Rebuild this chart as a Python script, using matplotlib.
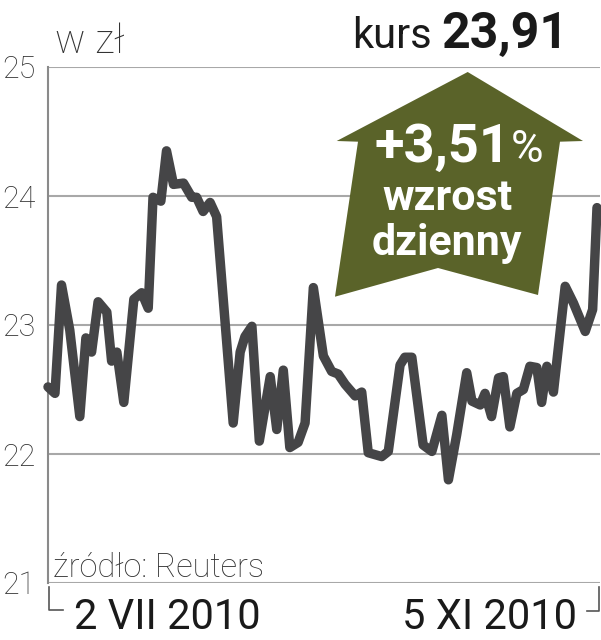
import matplotlib.pyplot as plt
from matplotlib.patches import Polygon
from matplotlib.lines import Line2D

# kurs akcji (dni od 2 VII 2010)
days = [0, 1.6, 3.1, 5.0, 7.3, 8.7, 10.0, 11.5, 13.5, 14.6, 15.8, 17.4, 19.7, 21.5,
        23.0, 24.1, 25.9, 27.2, 28.8, 31.1, 33.0, 34.1, 35.6, 37.2, 38.7, 42.5,
        44.1, 45.2, 46.8, 48.5, 51.0, 52.5, 54.0, 55.5, 57.4, 59.0, 60.9, 63.2,
        65.1, 66.6, 68.2, 70.5, 72.0, 73.5, 76.6, 78.1, 80.8, 81.9, 83.5, 86.1,
        88.1, 90.4, 91.9, 93.8, 96.1, 97.3, 99.2, 100.3, 101.8, 103.4, 104.5,
        106.0, 107.6, 109.1, 110.6, 112.2, 113.3, 114.5, 116.0, 118.7, 120.6,
        123.3, 125.0, 126.0]
price = [22.52, 22.47, 23.31, 22.96, 22.29, 22.90, 22.79, 23.18, 23.10, 22.72, 22.79,
         22.40, 23.20, 23.25, 23.13, 23.99, 23.96, 24.35, 24.09, 24.10, 23.99, 23.99,
         23.88, 23.95, 23.84, 22.24, 22.79, 22.91, 22.99, 22.10, 22.60, 22.19, 22.65,
         22.05, 22.09, 22.24, 23.29, 22.76, 22.64, 22.62, 22.54, 22.45, 22.48, 22.01,
         21.98, 22.02, 22.69, 22.75, 22.75, 22.07, 22.02, 22.30, 21.80, 22.15, 22.63,
         22.41, 22.38, 22.47, 22.29, 22.59, 22.60, 22.21, 22.47, 22.50, 22.68, 22.67,
         22.40, 22.68, 22.48, 23.30, 23.17, 22.95, 23.12, 23.91]
yticks = [21, 22, 23, 24, 25]
date_labels = ['2 VII 2010', '5 XI 2010']
kurs = '23,91'
zmiana = '+3,51'

W, H = 601, 640


def fx(x):
    return x / W


def fy(y):
    return 1 - y / H


fig = plt.figure(figsize=(W / 100, H / 100), dpi=100)
ax = fig.add_axes([fx(48), fy(583), fx(600) - fx(48), fy(67) - fy(583)])

ax.plot(days, price, color='#454547', lw=6.8, solid_joinstyle='round',
        solid_capstyle='round', clip_on=False, zorder=3)
ax.set_xlim(0, 126 * 552 / 549)
ax.set_ylim(21, 25)
ax.set_xticks([])
ax.set_yticks(yticks)
ax.set_yticklabels([str(t) for t in yticks], family='Roboto', fontweight='light',
                   fontsize=22, color='#333333')
ax.tick_params(axis='y', length=0, pad=9)
ax.grid(axis='y', color='#a8a8a8', lw=1.5, zorder=0)
for s in ['top', 'right', 'bottom']:
    ax.spines[s].set_visible(False)
ax.spines['left'].set_color('#8a8a8a')
ax.spines['left'].set_linewidth(1.5)

# nawiasy pod osia
fig.add_artist(Line2D([fx(49), fx(49), fx(63)], [fy(587), fy(610), fy(610)],
                      color='#555555', lw=1.2))
fig.add_artist(Line2D([fx(587), fx(599), fx(599)], [fy(611), fy(611), fy(587)],
                      color='#555555', lw=1.2))

# strzalka
arrow_px = [(467.7, 72), (336.7, 141), (358, 141.7), (335, 296.7), (438, 268),
            (538, 295), (560, 141.7), (583, 141)]
fig.add_artist(Polygon([(fx(x), fy(y)) for x, y in arrow_px], closed=True,
                       facecolor='#5a6329', edgecolor='none', zorder=4))

fig.text(fx(510), fy(162), zmiana, family='Roboto', fontweight='bold', fontsize=39,
         color='white', ha='right', va='baseline', zorder=5)
fig.text(fx(511), fy(162), '%', family='Roboto', fontsize=32,
         color='white', ha='left', va='baseline', zorder=5)
fig.text(fx(448), fy(210), 'wzrost', family='Roboto', fontweight='bold', fontsize=31,
         color='white', ha='center', va='baseline', zorder=5)
fig.text(fx(447), fy(255), 'dzienny', family='Roboto', fontweight='bold', fontsize=31,
         color='white', ha='center', va='baseline', zorder=5)

# naglowek
fig.text(fx(55), fy(53), 'w zł', family='Roboto', fontweight='light', fontsize=29,
         color='#333333', ha='left', va='baseline')
fig.text(fx(352), fy(48), 'kurs', family='Roboto', fontsize=30,
         color='#1a1a1a', ha='left', va='baseline')
fig.text(fx(568), fy(48), kurs, family='Roboto', fontweight='bold', fontsize=36,
         color='#1a1a1a', ha='right', va='baseline')

fig.text(fx(53), fy(577), 'źródło: Reuters', family='Roboto', fontweight='light',
         fontsize=23.5, color='#333333', ha='left', va='baseline')
fig.text(fx(74), fy(629), date_labels[0], family='Roboto', fontweight='normal',
         fontsize=30, color='#1a1a1a', ha='left', va='baseline')
fig.text(fx(577), fy(629), date_labels[1], family='Roboto', fontweight='normal',
         fontsize=30, color='#1a1a1a', ha='right', va='baseline')

fig.savefig('out.png', dpi=100)
